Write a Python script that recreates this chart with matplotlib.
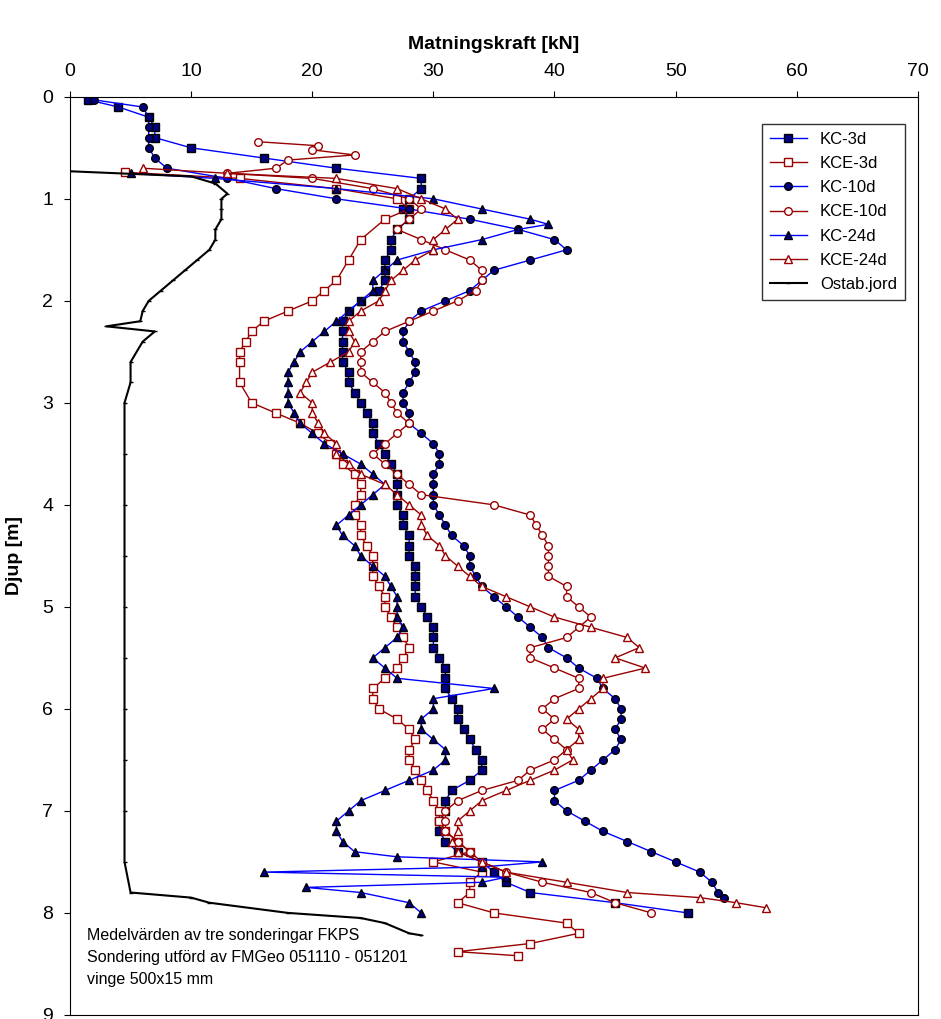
import matplotlib
matplotlib.use("Agg")
import matplotlib.pyplot as plt

plt.rcParams['font.family'] = ['Liberation Sans', 'DejaVu Sans']

# depth [m], force [kN]
kc3_d = [0.03,0.1,0.2,0.3,0.4,0.5,0.6,0.7,0.8,0.9,1.0,1.1,1.2,1.3,1.4,1.5,1.6,1.7,1.8,1.9,2.0,2.1,2.2,2.3,2.4,2.5,2.6,2.7,2.8,2.9,3.0,3.1,3.2,3.3,3.4,3.5,3.6,3.7,3.8,3.9,4.0,4.1,4.2,4.3,4.4,4.5,4.6,4.7,4.8,4.9,5.0,5.1,5.2,5.3,5.4,5.5,5.6,5.7,5.8,5.9,6.0,6.1,6.2,6.3,6.4,6.5,6.6,6.7,6.8,6.9,7.0,7.1,7.2,7.3,7.4,7.5,7.6,7.7,7.8,7.9,8.0]
kc3_f = [1.5,4,6.5,7,7,10,16,22,29,29,28,27.5,28,27,26.5,26.5,26,26,26,25.5,24,23,22.5,22.5,22.5,22.5,22.5,23,23,23.5,24,24.5,25,25,25.5,26,26.5,27,27,27,27,27.5,27.5,28,28,28,28.5,28.5,28.5,28.5,29,29.5,30,30,30,30.5,31,31,31,31.5,32,32,32.5,33,33.5,34,34,33,31.5,31,31,30.5,30.5,31,32,34,35,36,38,45,51]

kce3_d = [0.74,0.8,0.9,1.0,1.1,1.2,1.4,1.6,1.8,1.9,2.0,2.1,2.2,2.3,2.4,2.5,2.6,2.8,3.0,3.1,3.2,3.3,3.4,3.5,3.6,3.7,3.8,3.9,4.0,4.1,4.2,4.3,4.4,4.5,4.6,4.7,4.8,4.9,5.0,5.1,5.2,5.3,5.4,5.5,5.6,5.7,5.8,5.9,6.0,6.1,6.2,6.3,6.4,6.5,6.6,6.7,6.8,6.9,7.0,7.1,7.2,7.3,7.4,7.5,7.6,7.7,7.8,7.9,8.0,8.1,8.2,8.3,8.38,8.42]
kce3_f = [4.5,14,22,27,28,26,24,23,22,21,20,18,16,15,14.5,14,14,14,15,17,19,20.5,21.5,22,22.5,23.5,24,24,23.5,23.5,24,24,24.5,25,25,25,25.5,26,26,26.5,27,27.5,28,27.5,27,26,25,25,25.5,27,28,28.5,28,28,28.5,29,29.5,30,30.5,30.5,31,32,33,30,34,33,33,32,35,41,42,38,32,37]

kc10_d = [0.03,0.1,0.2,0.3,0.4,0.5,0.6,0.7,0.8,0.9,1.0,1.1,1.2,1.3,1.4,1.5,1.6,1.7,1.8,1.9,2.0,2.1,2.2,2.3,2.4,2.5,2.6,2.7,2.8,2.9,3.0,3.1,3.2,3.3,3.4,3.5,3.6,3.7,3.8,3.9,4.0,4.1,4.2,4.3,4.4,4.5,4.6,4.7,4.8,4.9,5.0,5.1,5.2,5.3,5.4,5.5,5.6,5.7,5.8,5.9,6.0,6.1,6.2,6.3,6.4,6.5,6.6,6.7,6.8,6.9,7.0,7.1,7.2,7.3,7.4,7.5,7.6,7.7,7.8,7.85]
kc10_f = [2,6,6.5,6.5,6.5,6.5,7,8,13,17,22,28,33,37,40,41,38,35,34,33,31,29,28,27.5,27.5,28,28.5,28.5,28,27.5,27.5,28,28,29,30,30.5,30.5,30,30,30,30,30.5,31,31.5,32.5,33,33,33.5,34,35,36,37,38,39,39.5,41,42,43.5,44,45,45.5,45.5,45,45.5,45,44,43,42,40,40,41,42.5,44,46,48,50,52,53,53.5,54]

kce10_d = [0.44,0.48,0.52,0.57,0.62,0.7,0.75,0.8,0.9,1.0,1.1,1.2,1.3,1.4,1.5,1.6,1.7,1.8,1.9,2.0,2.1,2.2,2.3,2.4,2.5,2.6,2.7,2.8,2.9,3.0,3.1,3.2,3.3,3.4,3.5,3.6,3.7,3.8,3.9,4.0,4.1,4.2,4.3,4.4,4.5,4.6,4.7,4.8,4.9,5.0,5.1,5.2,5.3,5.4,5.5,5.6,5.7,5.8,5.9,6.0,6.1,6.2,6.3,6.4,6.5,6.6,6.7,6.8,6.9,7.0,7.1,7.2,7.3,7.4,7.5,7.6,7.7,7.8,7.9,8.0]
kce10_f = [15.5,20.5,20,23.5,18,17,13,20,25,28,29,28,27,29,31,33,34,34,33.5,32,30,28,26,25,24,24,24,25,26,26.5,27,28,27,26,25,26,27,28,29,35,38,38.5,39,39.5,39.5,39.5,39.5,41,41,42,43,42,41,38,38,40,42,42,40,39,40,39,40,41,40,38,37,34,32,31,31,31,32,33,34,36,39,43,45,48]

kc24_d = [0.75,0.8,0.9,1.0,1.1,1.2,1.25,1.3,1.4,1.5,1.6,1.7,1.8,1.9,2.0,2.1,2.2,2.3,2.4,2.5,2.6,2.7,2.8,2.9,3.0,3.1,3.2,3.3,3.4,3.5,3.6,3.7,3.8,3.9,4.0,4.1,4.2,4.3,4.4,4.5,4.6,4.7,4.8,4.9,5.0,5.1,5.2,5.3,5.4,5.5,5.6,5.7,5.8,5.9,6.0,6.1,6.2,6.3,6.4,6.5,6.6,6.7,6.8,6.9,7.0,7.1,7.2,7.3,7.4,7.45,7.5,7.55,7.6,7.65,7.7,7.75,7.8,7.9,8.0]
kc24_f = [5,12,22,30,34,38,39.5,37,34,30,27,26,25,25,24,23,22,21,20,19,18.5,18,18,18,18,18.5,19,20,21,22.5,24,25,26,25,24,23,22,22.5,23.5,24,25,26,26.5,27,27,27,27.5,27,26,25,26,27,35,30,30,29,29,30,31,31,30,28,26,24,23,22,22,22.5,23.5,27,39,34,16,36,34,19.5,24,28,29]

kce24_d = [0.7,0.75,0.8,0.9,1.0,1.1,1.2,1.3,1.4,1.5,1.6,1.7,1.8,1.9,2.0,2.1,2.2,2.3,2.4,2.5,2.6,2.7,2.8,2.9,3.0,3.1,3.2,3.3,3.4,3.5,3.6,3.7,3.8,3.9,4.0,4.1,4.2,4.3,4.4,4.5,4.6,4.7,4.8,4.9,5.0,5.1,5.2,5.3,5.4,5.5,5.6,5.7,5.8,5.9,6.0,6.1,6.2,6.3,6.4,6.5,6.6,6.7,6.8,6.9,7.0,7.1,7.2,7.3,7.4,7.5,7.6,7.7,7.8,7.85,7.9,7.95]
kce24_f = [6,13,22,27,29,31,32,31,30,30,28.5,27.5,26.5,26,25.5,24,23,23,23.5,23,21.5,20,19.5,19,20,20,20.5,21,22,22,23,24,26,27,28,29,29,29.5,30.5,31,32,33,34,36,38,40,43,46,47,45,47.5,44,44,43,42,41,42,42,41,41.5,40,38,36,34,33,32,32,31.5,32,34,36,41,46,52,55,57.5]

ost_d = [0.73,0.78,0.85,0.95,1.0,1.1,1.2,1.3,1.4,1.5,1.6,1.7,1.8,1.9,2.0,2.1,2.2,2.25,2.3,2.4,2.6,2.8,3.0,3.5,4.0,4.5,5.0,5.5,6.0,6.5,7.0,7.5,7.8,7.85,7.9,8.0,8.05,8.1,8.2,8.22]
ost_f = [0,10,12,13,12.5,12.5,12.5,12,12,11.5,10.5,9.5,8.5,7.5,6.5,6,5.8,3,7,6,5,5,4.5,4.5,4.5,4.5,4.5,4.5,4.5,4.5,4.5,4.5,5,10,11.5,18,24,26,28,29]

BLUE = '#0000ff'
RED = '#990000'
NAVY = '#000080'

fig = plt.figure(figsize=(9.41, 10.19), dpi=100)
ax = fig.add_axes([0.0744, 0.004, 0.901, 0.901])

ms = 5.5
ax.plot(kc3_f, kc3_d, color=BLUE, lw=1, marker='s', ms=ms, mfc=NAVY, mec='black', label='KC-3d')
ax.plot(kce3_f, kce3_d, color=RED, lw=1, marker='s', ms=ms, mfc='white', mec=RED, label='KCE-3d')
ax.plot(kc10_f, kc10_d, color=BLUE, lw=1, marker='o', ms=ms, mfc=NAVY, mec='black', label='KC-10d')
ax.plot(kce10_f, kce10_d, color=RED, lw=1, marker='o', ms=ms, mfc='white', mec=RED, label='KCE-10d')
ax.plot(kc24_f, kc24_d, color=BLUE, lw=1, marker='^', ms=ms, mfc=NAVY, mec='black', label='KC-24d')
ax.plot(kce24_f, kce24_d, color=RED, lw=1, marker='^', ms=ms, mfc='white', mec=RED, label='KCE-24d')
ax.plot(ost_f, ost_d, color='black', lw=1.5, marker='_', ms=3, label='Ostab.jord')

ax.set_xlim(0, 70)
ax.set_ylim(9, 0)
ax.xaxis.tick_top()
ax.xaxis.set_label_position('top')
ax.set_xticks(range(0, 71, 10))
ax.set_yticks(range(0, 10))
ax.tick_params(labelsize=14, direction='out', length=4, pad=8)
ax.set_xlabel('Matningskraft [kN]', fontsize=14, fontweight='bold', labelpad=10)
ax.set_ylabel('Djup [m]', fontsize=14, fontweight='bold', labelpad=14)

leg = ax.legend(loc='upper right', bbox_to_anchor=(0.995, 0.98), fontsize=12,
                frameon=True, fancybox=False, edgecolor='black', handlelength=2.2,
                borderpad=0.5, labelspacing=0.55)
leg.get_frame().set_linewidth(1)

ax.text(0.02, 0.03, 'Medelvärden av tre sonderingar FKPS\nSondering utförd av FMGeo 051110 - 051201\nvinge 500x15 mm',
        transform=ax.transAxes, fontsize=11.5, va='bottom', ha='left', linespacing=1.6)

fig.savefig('out.png', dpi=100)
